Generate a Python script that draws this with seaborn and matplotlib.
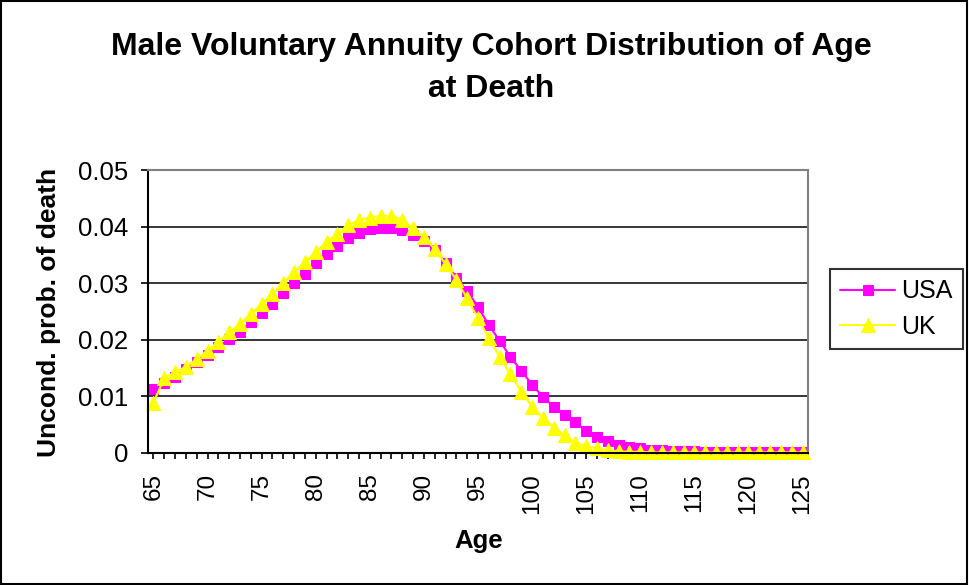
import numpy as np
import pandas as pd
import matplotlib
matplotlib.use("Agg")
import matplotlib.pyplot as plt
import seaborn as sns
from matplotlib.patches import Rectangle

ages = list(range(65, 126))
usa = [0.0113, 0.0124, 0.0135, 0.0148, 0.0160, 0.0173, 0.0187, 0.0201, 0.0214, 0.0231,
       0.0247, 0.0263, 0.0282, 0.0300, 0.0317, 0.0335, 0.0352, 0.0366, 0.0380, 0.0389,
       0.0395, 0.0398, 0.0397, 0.0394, 0.0385, 0.0375, 0.0359, 0.0336, 0.0310, 0.0286,
       0.0258, 0.0226, 0.0198, 0.0170, 0.0145, 0.0121, 0.0099, 0.0082, 0.0068, 0.0054,
       0.0039, 0.0029, 0.0021, 0.0015, 0.0011, 0.0008, 0.0006, 0.0005, 0.0004, 0.0003,
       0.0003, 0.0002, 0.0002, 0.0002, 0.0001, 0.0001, 0.0001, 0.0001, 0.0001, 0.0001, 0.0001]
uk = [0.0089, 0.0132, 0.0143, 0.0152, 0.0166, 0.0181, 0.0196, 0.0213, 0.0228, 0.0246,
      0.0263, 0.0281, 0.0301, 0.0319, 0.0337, 0.0355, 0.0373, 0.0387, 0.0402, 0.0412,
      0.0416, 0.0419, 0.0419, 0.0412, 0.0397, 0.0381, 0.0360, 0.0334, 0.0306, 0.0273,
      0.0238, 0.0203, 0.0170, 0.0139, 0.0108, 0.0082, 0.0062, 0.0045, 0.0031, 0.0018,
      0.0012, 0.0008, 0.0005, 0.0003, 0.0002, 0.0002, 0.0001, 0.0001, 0.0001, 0.0001,
      0.0001, 0.0001, 0.0001, 0.0001, 0.0001, 0.0001, 0.0001, 0.0001, 0.0001, 0.0001, 0.0001]
series_names = ["USA", "UK"]
series_colors = ["#FF00FF", "#FFFF00"]
series_markers = ["s", "^"]
ytick_values = [0, 0.01, 0.02, 0.03, 0.04, 0.05]
ytick_labels = ["0", "0.01", "0.02", "0.03", "0.04", "0.05"]
xtick_values = list(range(65, 126, 5))
title_text = "Male Voluntary Annuity Cohort Distribution of Age\nat Death"
xlabel_text = "Age"
ylabel_text = "Uncond. prob. of death"

sns.set_style("white")
plt.rcParams["font.family"] = ["Liberation Sans", "DejaVu Sans"]
for key in ["text.color", "axes.labelcolor", "xtick.color", "ytick.color"]:
    plt.rcParams[key] = "black"

df = pd.DataFrame({
    "Age": ages * 2,
    "value": usa + uk,
    "series": [series_names[0]] * len(ages) + [series_names[1]] * len(ages),
})

fig = plt.figure(figsize=(9.69, 5.85), dpi=100)
ax = fig.add_axes([148 / 969, 1 - 453 / 585, (808 - 148) / 969, (453 - 170) / 585])

for name, col, mk in zip(series_names, series_colors, series_markers):
    sub = df[df["series"] == name]
    sns.lineplot(data=sub, x="Age", y="value", ax=ax, color=col, marker=mk,
                 markersize=7.5 if mk == "s" else 10, markeredgecolor=col,
                 markerfacecolor=col, linewidth=1.5, label=name, clip_on=False)

ax.set_xlim(64.5, 125.5)
ax.set_ylim(0, 0.05)
ax.set_yticks(ytick_values)
ax.set_yticklabels(ytick_labels, fontsize=18.5)
ax.set_xticks(ages, minor=True)
ax.set_xticks(xtick_values)
ax.set_xticklabels([str(v) for v in xtick_values], rotation=90, fontsize=17.5)
ax.tick_params(axis="x", which="both", direction="out", length=4.5, width=1.2,
               color="black", bottom=True, pad=10)
ax.tick_params(axis="y", which="major", direction="out", length=5, width=1.2,
               color="black", left=True, pad=9)
for yv in ytick_values[1:-1]:
    ax.axhline(yv, color="black", linewidth=1.1, zorder=0.5)

for side in ["left", "bottom"]:
    ax.spines[side].set_color("black")
    ax.spines[side].set_linewidth(1.5)
for side in ["top", "right"]:
    ax.spines[side].set_color("#808080")
    ax.spines[side].set_linewidth(1.5)

ax.set_xlabel(xlabel_text, fontsize=18.5, fontweight="bold")
ax.set_ylabel(ylabel_text, fontsize=19, fontweight="bold")
ax.xaxis.set_label_coords(478.5 / 969, 1 - 529 / 585, transform=fig.transFigure)
ax.yaxis.set_label_coords(61 / 969, 1 - 312 / 585, transform=fig.transFigure)

fig.text(491 / 969, 1 - 68 / 585, title_text, ha="center", va="center",
         fontsize=23, fontweight="bold", linespacing=1.5)

leg = ax.legend(loc="center left", bbox_to_anchor=(830 / 969, 1 - 309 / 585),
                bbox_transform=fig.transFigure, frameon=True, fontsize=18,
                fancybox=False, borderpad=0.4, borderaxespad=0, handlelength=2.2,
                labelspacing=0.45, handletextpad=0.25)
leg.get_frame().set_edgecolor("black")
leg.get_frame().set_linewidth(1.5)

fig.patches.append(Rectangle((0.001, 0.001), 0.997, 0.997, transform=fig.transFigure,
                             fill=False, edgecolor="black", linewidth=1.5))

fig.savefig("out.png", dpi=100)
